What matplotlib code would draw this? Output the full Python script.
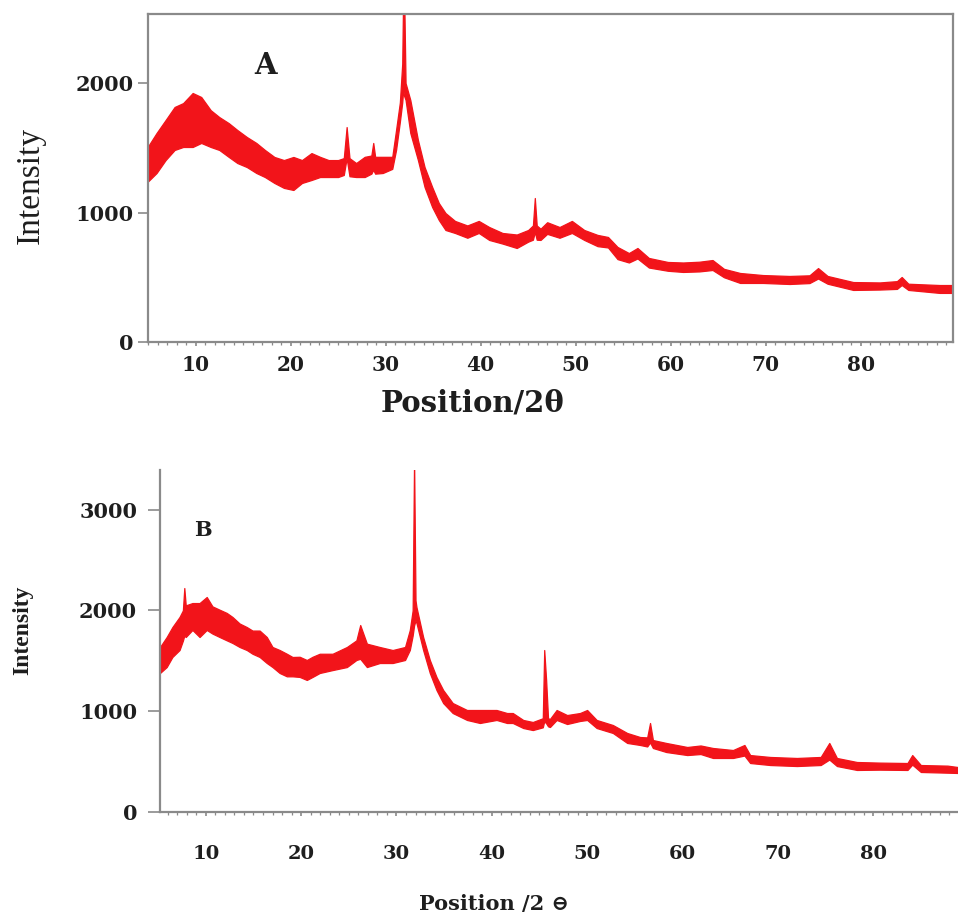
import matplotlib
matplotlib.use('Agg')
import matplotlib.pyplot as plt
from matplotlib.ticker import MultipleLocator

# ---- data (2theta, lower / upper edge of the noisy trace) ----
a_theta = [5.0, 5.9, 6.85, 7.8, 8.7, 9.7, 10.6, 11.6, 12.5, 13.5, 14.4, 15.4, 16.4,
           17.3, 18.3, 19.3, 20.3, 21.2, 22.2, 23.1, 24.0, 25.0, 25.6, 25.9, 26.2,
           26.9, 27.8, 28.5, 28.7, 28.9, 29.7, 30.7, 31.1, 31.5, 31.75, 31.85, 31.95,
           32.1, 32.6, 33.4, 34.1, 34.9, 35.6, 36.3, 37.3, 38.6, 39.8, 40.9, 42.3,
           43.8, 45.0, 45.5, 45.7, 45.9, 46.3, 47.0, 48.3, 49.6, 50.9, 52.3, 53.4,
           54.4, 55.6, 56.5, 57.7, 59.7, 61.3, 63.0, 64.4, 65.6, 67.3, 69.7, 72.5,
           74.6, 75.5, 76.5, 79.2, 82.0, 83.8, 84.3, 85.0, 88.3, 89.7]
a_low = [1240, 1305, 1405, 1483, 1506, 1506, 1537, 1506, 1483, 1429, 1382, 1351, 1305,
         1274, 1228, 1190, 1174, 1228, 1251, 1274, 1274, 1274, 1290, 1420, 1280,
         1274, 1274, 1300, 1330, 1300, 1305, 1337, 1483, 1700, 1850, 1950, 1900,
         1870, 1614, 1405, 1197, 1042, 942, 865, 842, 805, 842, 788, 760,
         726, 775, 790, 850, 790, 788, 835, 805, 842, 788, 740, 730,
         640, 614, 645, 575, 550, 541, 545, 556, 500, 456, 456, 448,
         455, 490, 450, 402, 405, 410, 440, 402, 379, 379]
a_high = [1510, 1614, 1714, 1815, 1845, 1923, 1892, 1790, 1737, 1690, 1637, 1583, 1537,
          1483, 1429, 1405, 1429, 1405, 1459, 1430, 1405, 1405, 1420, 1660, 1420,
          1382, 1430, 1440, 1537, 1430, 1430, 1430, 1637, 1850, 2150, 2700, 2700,
          2000, 1869, 1560, 1351, 1197, 1073, 996, 935, 900, 935, 888, 842,
          830, 865, 900, 1112, 900, 875, 925, 888, 935, 865, 827, 811,
          734, 687, 726, 649, 618, 614, 620, 633, 565, 533, 517, 510,
          515, 571, 510, 463, 460, 470, 502, 450, 440, 440]

b_theta = [5.2, 5.9, 6.5, 7.25, 7.6, 7.75, 7.9, 8.6, 9.35, 10.1, 10.7, 11.45, 12.2,
           12.8, 13.55, 14.3, 14.9, 15.65, 16.4, 17.0, 17.75, 18.5, 19.1, 19.85, 20.6,
           21.2, 21.95, 23.3, 24.8, 25.8, 26.2, 26.9, 28.25, 29.6, 30.9, 31.4, 31.7,
           31.85, 32.0, 32.1, 32.8, 33.5, 34.2, 34.9, 35.9, 37.4, 38.75, 40.5, 41.6,
           42.2, 43.3, 44.3, 45.35, 45.5, 45.7, 45.9, 46.1, 46.8, 47.9, 49.25, 50.0,
           51.0, 52.7, 54.2, 55.55, 56.3, 56.6, 56.9, 58.3, 60.5, 61.9, 63.2, 65.3,
           66.5, 67.1, 69.2, 72.0, 74.5, 75.4, 76.2, 78.3, 80.7, 83.6, 84.1, 85.0,
           87.8, 88.9]
b_low = [1379, 1438, 1538, 1607, 1700, 1750, 1736, 1806, 1736, 1806, 1770, 1736, 1703,
         1677, 1637, 1607, 1570, 1538, 1478, 1438, 1379, 1346, 1346, 1340, 1310,
         1340, 1379, 1408, 1438, 1508, 1520, 1438, 1478, 1478, 1508, 1607, 1750,
         1850, 1900, 1875, 1607, 1379, 1210, 1081, 982, 913, 883, 913, 883,
         883, 833, 813, 840, 900, 880, 850, 843, 913, 873, 903, 913,
         833, 784, 685, 665, 650, 690, 635, 595, 565, 575, 536, 536,
         560, 486, 466, 456, 466, 520, 456, 417, 420, 417, 470, 397,
         390, 387]
b_high = [1637, 1736, 1835, 1935, 2000, 2222, 2050, 2073, 2073, 2133, 2040, 2007, 1975,
          1935, 1870, 1835, 1800, 1800, 1736, 1637, 1607, 1570, 1538, 1540, 1508,
          1540, 1570, 1570, 1637, 1703, 1855, 1670, 1637, 1607, 1637, 1805, 2000,
          3500, 2100, 2033, 1736, 1508, 1339, 1210, 1081, 1012, 1012, 1012, 982,
          982, 913, 893, 930, 1607, 1310, 930, 923, 1012, 962, 982, 1012,
          913, 863, 784, 744, 740, 883, 714, 685, 645, 660, 635, 615,
          665, 565, 546, 536, 546, 685, 536, 496, 490, 486, 565, 466,
          460, 446]

x_ticks = [10, 20, 30, 40, 50, 60, 70, 80]
a_yticks = [0, 1000, 2000]
b_yticks = [0, 1000, 2000, 3000]

RED = '#f2141a'
GRAY = '#8a8a8a'
TXT = '#1e1e1e'

plt.rcParams['font.family'] = ['DejaVu Serif', 'DejaVu Sans']
plt.rcParams['font.weight'] = 'bold'

fig = plt.figure(figsize=(9.58, 9.18), dpi=100)
W, H = 958.0, 918.0

# ---------------- panel A ----------------
axA = fig.add_axes([148 / W, 1 - 342 / H, 805 / W, 328 / H])
axA.fill_between(a_theta, a_low, a_high, color=RED, lw=0.9)
axA.set_xlim(5.0, 89.7)
axA.set_ylim(0, 2533)
axA.set_xticks(x_ticks)
axA.set_yticks(a_yticks)
axA.xaxis.set_minor_locator(MultipleLocator(1))
for s in axA.spines.values():
    s.set_color(GRAY)
    s.set_linewidth(1.6)
axA.tick_params(axis='x', which='major', length=3, width=1.2, color=GRAY,
                pad=6.5, labelsize=14.5, labelcolor=TXT)
axA.tick_params(axis='x', which='minor', length=2, width=0.9, color=GRAY)
axA.tick_params(axis='y', which='major', length=7, width=1.2, color=GRAY,
                pad=3.5, labelsize=15, labelcolor=TXT)

fig.text(266 / W, 1 - 66 / H, 'A', fontsize=21, fontweight='bold',
         ha='center', va='center', color=TXT)
fig.text(31 / W, 1 - 185 / H, 'Intensity', family='Liberation Serif',
         fontweight='normal', fontsize=24, rotation=90,
         ha='center', va='center', color=TXT)
fig.text(472 / W, 1 - 403 / H, 'Position/2θ', fontsize=21, fontweight='bold',
         ha='center', va='center', color=TXT)

# ---------------- panel B ----------------
axB = fig.add_axes([160 / W, 1 - 812 / H, 798 / W, 342 / H])
axB.fill_between(b_theta, b_low, b_high, color=RED, lw=0.9)
axB.set_xlim(5.2, 88.9)
axB.set_ylim(0, 3393)
axB.set_xticks(x_ticks)
axB.set_yticks(b_yticks)
axB.xaxis.set_minor_locator(MultipleLocator(1))
axB.spines['top'].set_visible(False)
axB.spines['right'].set_visible(False)
for side in ['left', 'bottom']:
    axB.spines[side].set_color(GRAY)
    axB.spines[side].set_linewidth(1.6)
axB.tick_params(axis='x', which='major', length=3, width=1.2, color=GRAY,
                pad=21, labelsize=14, labelcolor=TXT)
axB.tick_params(axis='x', which='minor', length=2, width=0.9, color=GRAY)
axB.tick_params(axis='y', which='major', length=8.5, width=1.2, color=GRAY,
                pad=8, labelsize=15, labelcolor=TXT)

fig.text(203 / W, 1 - 530 / H, 'B', fontsize=15, fontweight='bold',
         ha='center', va='center', color=TXT)
fig.text(23 / W, 1 - 630 / H, 'Intensity', family='Liberation Serif',
         fontweight='bold', fontsize=17, rotation=90,
         ha='center', va='center', color=TXT)
fig.text(494 / W, 1 - 904 / H, 'Position /2 ⊖', family=['DejaVu Serif', 'DejaVu Sans'],
         fontsize=15, fontweight='bold', ha='center', va='center', color=TXT)

fig.savefig('out.png', dpi=100)
